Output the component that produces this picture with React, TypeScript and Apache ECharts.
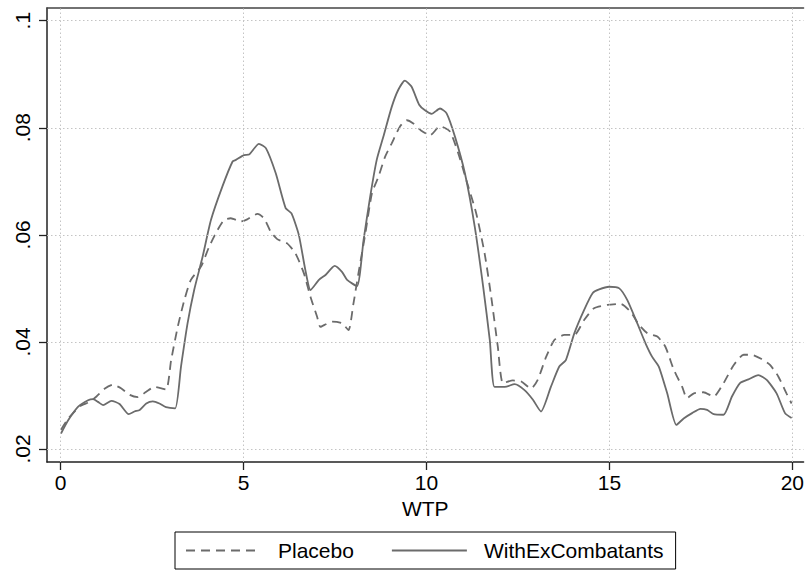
import React, { useEffect, useRef } from "react";
import * as echarts from "echarts";

const xTicks = [0, 5, 10, 15, 20];
const yTicks = [0.02, 0.04, 0.06, 0.08, 0.1];
const seriesNames = ["Placebo", "WithExCombatants"];

const placeboX = [
  0.01, 0.21, 0.53, 0.8, 0.98, 1.21, 1.43, 1.66, 1.89, 2.11, 2.34, 2.57, 2.88, 3.02, 3.2, 3.38, 3.56, 3.84, 4.06, 4.29,
  4.47, 4.65, 4.93, 5.1, 5.38, 5.56, 5.74, 5.92, 6.19, 6.42, 6.65, 6.83, 7.01, 7.1, 7.25, 7.42, 7.69, 7.87, 8.0, 8.14,
  8.33, 8.51, 8.69, 8.87, 9.05, 9.28, 9.46, 9.64, 9.85, 10.1, 10.37, 10.64, 10.87, 11.09, 11.36, 11.59, 11.77, 11.95, 12.09, 12.36,
  12.59, 12.86, 13.04, 13.27, 13.5, 13.77, 14.04, 14.31, 14.58, 14.94, 15.31, 15.58, 15.81, 16.04, 16.31, 16.53, 16.76, 16.99, 17.12, 17.31,
  17.57, 17.85, 18.12, 18.4, 18.67, 18.89, 19.16, 19.39, 19.62, 19.84, 19.98,
];
const placeboY = [
  0.0236, 0.0257, 0.028, 0.0288, 0.0298, 0.0313, 0.032, 0.0313, 0.0301, 0.0297, 0.0307, 0.0316, 0.0311, 0.0366, 0.0428, 0.0478, 0.0516, 0.0541, 0.0578, 0.0609,
  0.0628, 0.0631, 0.0625, 0.0629, 0.0639, 0.0631, 0.0606, 0.0592, 0.0584, 0.0565, 0.0528, 0.0484, 0.0447, 0.0428, 0.0433, 0.0438, 0.0435, 0.0422, 0.047, 0.0528,
  0.0603, 0.0678, 0.0709, 0.0746, 0.0771, 0.0803, 0.0814, 0.0808, 0.0795, 0.0786, 0.0803, 0.0793, 0.0752, 0.0702, 0.064, 0.0565, 0.0484, 0.0391, 0.0323, 0.0328,
  0.0326, 0.0313, 0.0329, 0.0372, 0.0404, 0.0413, 0.0413, 0.0441, 0.0463, 0.0469, 0.0471, 0.0456, 0.0432, 0.0416, 0.041, 0.0391, 0.0348, 0.0316, 0.0295, 0.0304,
  0.0306, 0.0298, 0.0323, 0.0357, 0.0376, 0.0376, 0.0368, 0.0357, 0.0335, 0.0304, 0.0285,
];

const exX = [
  0.01, 0.21, 0.48, 0.75, 0.89, 1.02, 1.16, 1.39, 1.61, 1.86, 2.02, 2.16, 2.34, 2.52, 2.7, 2.88, 3.13, 3.29, 3.47, 3.65,
  3.88, 4.11, 4.42, 4.7, 4.79, 5.01, 5.15, 5.42, 5.61, 5.88, 6.15, 6.31, 6.51, 6.69, 6.83, 7.06, 7.24, 7.49, 7.69, 7.83,
  8.1, 8.28, 8.46, 8.64, 8.82, 9.05, 9.23, 9.41, 9.59, 9.8, 9.95, 10.14, 10.37, 10.55, 10.78, 11.05, 11.32, 11.55, 11.73, 11.86,
  12.14, 12.41, 12.68, 12.91, 13.13, 13.4, 13.63, 13.81, 14.04, 14.31, 14.54, 14.72, 14.99, 15.27, 15.49, 15.76, 15.99, 16.17, 16.35, 16.58,
  16.83, 17.03, 17.26, 17.49, 17.67, 17.85, 18.12, 18.35, 18.57, 18.8, 19.07, 19.3, 19.57, 19.8, 19.98,
];
const exY = [
  0.0229, 0.0254, 0.0279, 0.0291, 0.0293, 0.0288, 0.0282, 0.029, 0.0284, 0.0265, 0.027, 0.0273, 0.0285, 0.0289, 0.0285, 0.0278, 0.0276, 0.0354, 0.0435, 0.0497,
  0.0559, 0.0628, 0.069, 0.0737, 0.074, 0.0749, 0.075, 0.077, 0.0762, 0.0715, 0.065, 0.064, 0.06, 0.0534, 0.0497, 0.0516, 0.0525, 0.0542, 0.0531, 0.0516,
  0.0504, 0.059, 0.0671, 0.074, 0.0783, 0.0839, 0.0871, 0.0888, 0.0877, 0.0843, 0.0833, 0.0826, 0.0836, 0.0827, 0.0783, 0.0715, 0.0615, 0.0503, 0.0404, 0.0316,
  0.0316, 0.0321, 0.031, 0.0292, 0.027, 0.0316, 0.0354, 0.0366, 0.0416, 0.046, 0.0491, 0.0498, 0.0503, 0.05, 0.0478, 0.0435, 0.0397, 0.0372, 0.0354, 0.0304,
  0.0245, 0.0257, 0.0267, 0.0275, 0.0273, 0.0265, 0.0264, 0.0298, 0.0323, 0.033, 0.0338, 0.0329, 0.0304, 0.0267, 0.0258,
];

const FONT = "'Liberation Sans', Arial, Helvetica, sans-serif";
const FS = 21;
const LINE_COLOR = "#6b6b6b";
const GRID_STYLE = { color: "#c4c4c4", width: 1, type: [1.5, 2.5] as number[] };

export default function App() {
  const ref = useRef<HTMLDivElement>(null);
  useEffect(() => {
    const chart = echarts.init(ref.current!, null, { renderer: "svg" });
    const xMin = -0.373;
    const xMax = 20.307;
    const yMin = 0.01757;
    const yMax = 0.10237;
    chart.setOption({
      animation: false,
      backgroundColor: "#ffffff",
      textStyle: { fontFamily: FONT },
      grid: { left: 47, right: 0, top: 8, bottom: 110, containLabel: false },
      legend: {
        data: seriesNames,
        left: 175,
        top: 532,
        orient: "horizontal",
        itemWidth: 75,
        itemHeight: 14,
        itemGap: 37,
        padding: [8, 12, 8, 10],
        borderColor: "#000",
        borderWidth: 1,
        itemStyle: { color: "rgba(0,0,0,0)", borderWidth: 0, opacity: 0 },
        textStyle: { fontSize: FS, color: "#000", fontFamily: FONT, padding: [0, 0, 0, 12] },
      },
      xAxis: [
        {
          type: "value",
          min: xMin,
          max: xMax,
          position: "bottom",
          name: "WTP",
          nameLocation: "middle",
          nameGap: 35,
          nameTextStyle: { fontSize: FS, color: "#000", fontFamily: FONT },
          axisLine: { show: true, onZero: false, lineStyle: { color: "#222", width: 1.5 } },
          axisTick: { show: true, customValues: xTicks, length: 8, lineStyle: { color: "#222", width: 1.3 } },
          axisLabel: { show: true, customValues: xTicks, fontSize: FS, color: "#000", margin: 10, fontFamily: FONT },
          splitLine: { show: false },
        },
        {
          type: "value",
          min: xMin,
          max: xMax,
          position: "top",
          axisLine: { show: true, onZero: false, lineStyle: { color: "#444", width: 1.5 } },
          axisTick: { show: false },
          axisLabel: { show: false },
          splitLine: { show: false },
        },
      ],
      yAxis: {
        type: "value",
        min: yMin,
        max: yMax,
        axisLine: { show: true, onZero: false, lineStyle: { color: "#222", width: 1.5 } },
        axisTick: { show: true, customValues: yTicks, length: 8, lineStyle: { color: "#222", width: 1.3 } },
        axisLabel: {
          show: true,
          customValues: yTicks,
          rotate: 90,
          fontSize: FS,
          color: "#000",
          margin: 14,
          fontFamily: FONT,
          formatter: (v: number) => String(+v.toFixed(2)).replace(/^0\./, "."),
        },
        splitLine: { show: false },
      },
      series: [
        {
          name: "gridlines",
          type: "line",
          data: [],
          z: 1,
          silent: true,
          markLine: {
            silent: true,
            symbol: ["none", "none"],
            label: { show: false },
            lineStyle: GRID_STYLE,
            emphasis: { disabled: true },
            data: [...xTicks.map((v) => ({ xAxis: v })), ...yTicks.map((v) => ({ yAxis: v }))],
          },
        },
        {
          name: seriesNames[0],
          type: "line",
          z: 3,
          showSymbol: false,
          symbol: "none",
          smooth: 0.2,
          data: placeboX.map((x, i) => [x, placeboY[i]]),
          lineStyle: { color: LINE_COLOR, width: 1.8, type: [9, 6] },
          itemStyle: { color: LINE_COLOR },
        },
        {
          name: seriesNames[1],
          type: "line",
          z: 4,
          showSymbol: false,
          symbol: "none",
          smooth: 0.2,
          data: exX.map((x, i) => [x, exY[i]]),
          lineStyle: { color: LINE_COLOR, width: 1.8, type: "solid" },
          itemStyle: { color: LINE_COLOR },
        },
      ],
    });
    return () => chart.dispose();
  }, []);
  return <div ref={ref} style={{ position: "absolute", left: 0, top: 0, width: 807, height: 572 }} />;
}
